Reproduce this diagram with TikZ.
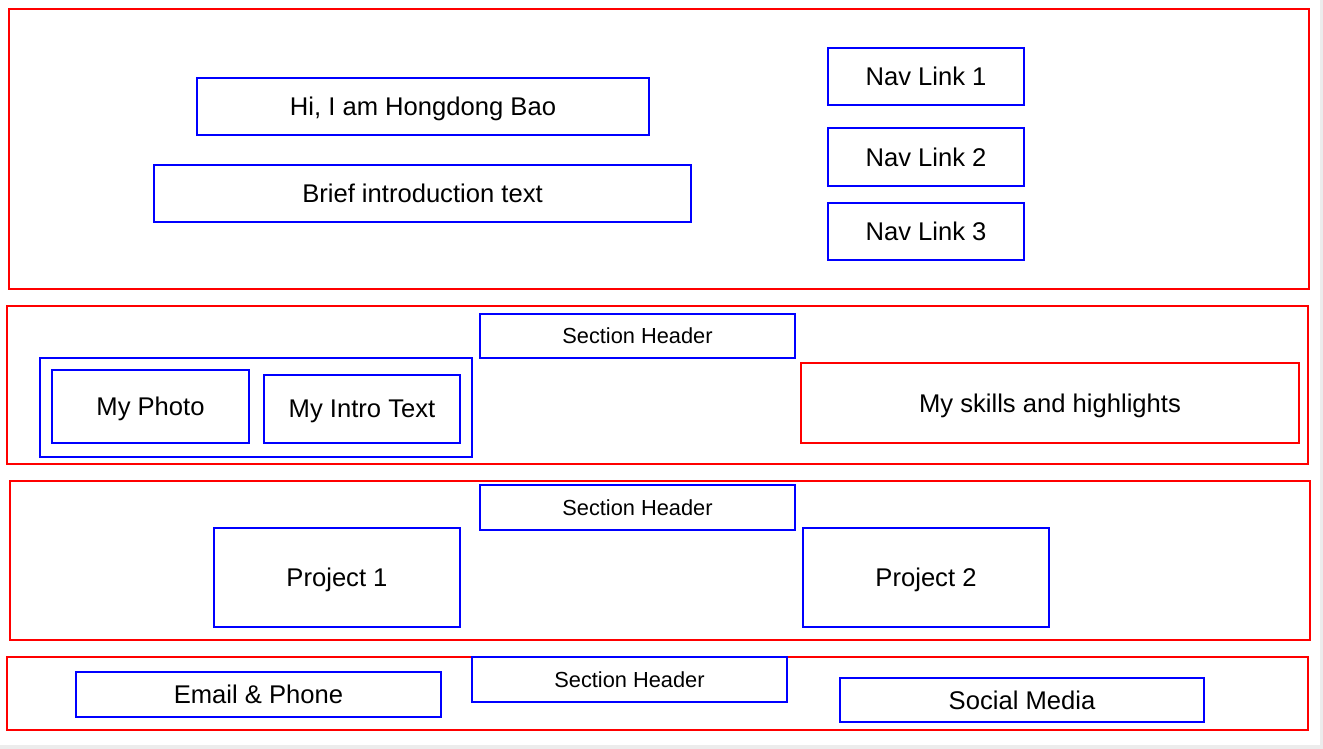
\documentclass[tikz,border=0pt]{standalone}
\usepackage{fontspec}
\setmainfont{Liberation Sans}
\begin{document}
\begin{tikzpicture}[x=1pt,y=-1pt]
    \tikzstyle{section}=[draw=red,line width=1.1pt,rectangle,inner sep=0pt,text depth=0pt]
    \tikzstyle{block}=[draw=blue,line width=1.1pt,rectangle,inner sep=0pt,text depth=0pt,font=\fontsize{25.6}{30}\selectfont]
    \tikzstyle{header}=[block,font=\fontsize{21.8}{26}\selectfont]

    \useasboundingbox (0,0) rectangle (1323,749);
    \fill[gray!15] (0,745) rectangle (1323,749);
    \fill[gray!15] (1320,0) rectangle (1323,749);

    % hero
    \node[section,minimum width=1300pt,minimum height=280pt] at (659,149) (hero) {};
    \node[block,minimum width=452pt,minimum height=57pt] at (423,106.5) (greet) {Hi, I am Hongdong Bao};
    \node[block,minimum width=537pt,minimum height=57pt] at (422.5,193.5) (brief) {Brief introduction text};
    \node[block,minimum width=196pt,minimum height=57pt] at (926,76.5) (nav1) {Nav Link 1};
    \node[block,minimum width=196pt,minimum height=58pt] at (926,157) (nav2) {Nav Link 2};
    \node[block,minimum width=196pt,minimum height=57pt] at (926,231.5) (nav3) {Nav Link 3};

    % about
    \node[section,minimum width=1301pt,minimum height=158pt] at (657.5,385) (about) {};
    \node[header,minimum width=315pt,minimum height=44pt] at (637.5,336) (aboutheader) {Section Header};
    \node[block,minimum width=432pt,minimum height=99pt] at (256,407.5) (me) {};
    \node[block,minimum width=197pt,minimum height=73pt] at (150.5,406.5) (photo) {My Photo};
    \node[block,minimum width=196pt,minimum height=68pt] at (362,409) (intro) {My Intro Text};
    \node[section,font=\fontsize{25.6}{30}\selectfont,minimum width=498pt,minimum height=80pt] at (1050,403) (skills) {My skills and highlights};

    % projects
    \node[section,minimum width=1300pt,minimum height=159pt] at (660,560.5) (projects) {};
    \node[header,minimum width=315pt,minimum height=45pt] at (637.5,507.5) (projheader) {Section Header};
    \node[block,minimum width=246pt,minimum height=99pt] at (337,577.5) (proj1) {Project 1};
    \node[block,minimum width=246pt,minimum height=99pt] at (926,577.5) (proj2) {Project 2};

    % contact
    \node[section,minimum width=1301pt,minimum height=73pt] at (657.5,693.5) (contact) {};
    \node[header,minimum width=315pt,minimum height=45pt] at (629.5,679.5) (contactheader) {Section Header};
    \node[block,minimum width=365pt,minimum height=45pt] at (258.5,694.5) (email) {Email \& Phone};
    \node[block,minimum width=364pt,minimum height=44pt] at (1022,700) (social) {Social Media};
\end{tikzpicture}
\end{document}
